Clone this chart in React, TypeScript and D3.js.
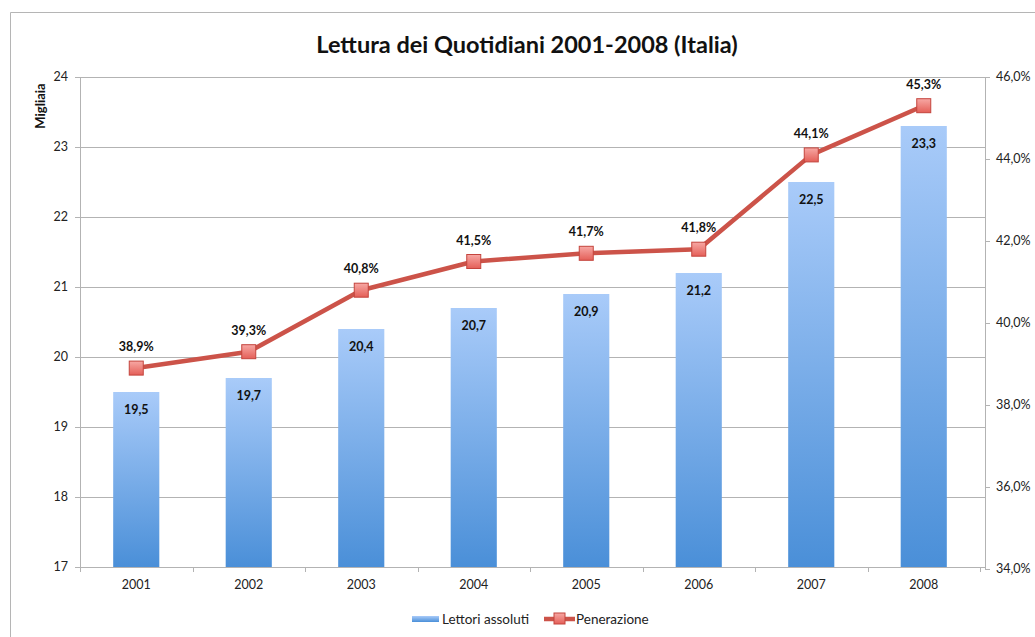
import React from "react";
import * as d3 from "d3";

const years = ["2001", "2002", "2003", "2004", "2005", "2006", "2007", "2008"];
const lettori = [19.5, 19.7, 20.4, 20.7, 20.9, 21.2, 22.5, 23.3];
const penetrazione = [38.9, 39.3, 40.8, 41.5, 41.7, 41.8, 44.1, 45.3];
const leftTicks = [17, 18, 19, 20, 21, 22, 23, 24];
const rightTicks = [34, 36, 38, 40, 42, 44, 46];

const W = 1035;
const H = 637;
const L = 80;
const R = 980;
const T = 77;
const B = 567;
const FONT = "Lato, 'Open Sans', sans-serif";

const fmt = (v: number, d: number) => v.toFixed(d).replace(".", ",");

export default function App() {
  const x = d3.scaleBand<string>().domain(years).range([L, R]).paddingInner(0.59).paddingOuter(0.295);
  const yL = d3.scaleLinear().domain([17, 24]).range([B, T]);
  const yR = d3.scaleLinear().domain([34, 46]).range([B + 2, T]);
  const cx = (y: string) => (x(y) as number) + x.bandwidth() / 2;
  const line = d3
    .line<number>()
    .x((_, i) => cx(years[i]))
    .y((d) => yR(d));

  return (
    <svg width={W} height={H} style={{ position: "absolute", left: 0, top: 0 }} fontFamily={FONT}>
      <defs>
        <linearGradient id="barG" x1="0" y1="0" x2="0" y2="1">
          <stop offset="0" stopColor="#a9cbf9" />
          <stop offset="1" stopColor="#4a8fd8" />
        </linearGradient>
        <linearGradient id="mkG" x1="0" y1="0" x2="0" y2="1">
          <stop offset="0" stopColor="#f7a8a4" />
          <stop offset="1" stopColor="#e45f58" />
        </linearGradient>
      </defs>
      <rect x={0} y={0} width={W} height={H} fill="#fff" />
      <path d={`M10.5,${H} V12.5 H${W}`} fill="none" stroke="#b5b5b5" strokeWidth={1} />
      <text x={527} y={53} textAnchor="middle" fontSize={23.5} fontWeight="bold" fill="#111">
        Lettura dei Quotidiani 2001-2008 (Italia)
      </text>
      <text
        transform={`translate(45,106) rotate(-90)`}
        textAnchor="middle"
        fontSize={13}
        fontWeight="bold"
        fill="#111"
      >
        Migliaia
      </text>
      {leftTicks.map((t) => (
        <g key={t}>
          <line x1={L - 5} x2={985} y1={Math.round(yL(t)) + 0.5} y2={Math.round(yL(t)) + 0.5} stroke="#b3b3b3" />
          <text x={68} y={yL(t) + 4} textAnchor="end" fontSize={12.5} fill="#222">
            {t}
          </text>
        </g>
      ))}
      <line x1={L + 0.5} x2={L + 0.5} y1={T} y2={B} stroke="#b3b3b3" />
      <line x1={985.5} x2={985.5} y1={T} y2={B + 2} stroke="#b3b3b3" />
      {rightTicks.map((t) => (
        <g key={t}>
          <line x1={985} x2={990} y1={Math.round(yR(t)) + 0.5} y2={Math.round(yR(t)) + 0.5} stroke="#b3b3b3" />
          <text x={996} y={yR(t) + 4} fontSize={12.5} fill="#222">
            {fmt(t, 1)}%
          </text>
        </g>
      ))}
      {years.map((y) => (
        <g key={y}>
          <line x1={Math.round(x(y)! - (x.step() - x.bandwidth()) / 2) + 0.5} x2={Math.round(x(y)! - (x.step() - x.bandwidth()) / 2) + 0.5} y1={B} y2={B + 5} stroke="#b3b3b3" />
          <text x={cx(y)} y={B + 22} textAnchor="middle" fontSize={12.5} fill="#222">
            {y}
          </text>
        </g>
      ))}
      <line x1={R + 0.5} x2={R + 0.5} y1={B} y2={B + 5} stroke="#b3b3b3" />
      {years.map((y, i) => (
        <g key={"b" + y}>
          <rect x={x(y)} y={yL(lettori[i])} width={x.bandwidth()} height={B - yL(lettori[i])} fill="url(#barG)" />
          <text x={cx(y)} y={yL(lettori[i]) + 22} textAnchor="middle" fontSize={12.5} fontWeight="bold" fill="#111">
            {fmt(lettori[i], 1)}
          </text>
        </g>
      ))}
      <path d={line(penetrazione) || ""} fill="none" stroke="#cc5349" strokeWidth={4.5} strokeLinejoin="round" />
      {years.map((y, i) => (
        <g key={"m" + y}>
          <rect x={cx(y) - 7} y={yR(penetrazione[i]) - 7} width={14} height={14} fill="url(#mkG)" stroke="#c4443d" strokeWidth={1} />
          <text x={cx(y)} y={yR(penetrazione[i]) - 17} textAnchor="middle" fontSize={12.5} fontWeight="bold" fill="#111">
            {fmt(penetrazione[i], 1)}%
          </text>
        </g>
      ))}
      <g>
        <rect x={412} y={616} width={27} height={6} fill="url(#barG)" />
        <text x={442} y={624} fontSize={13.5} fill="#222">Lettori assoluti</text>
        <line x1={544} x2={575} y1={619} y2={619} stroke="#cc5349" strokeWidth={4.5} />
        <rect x={554} y={613} width={11} height={11} fill="url(#mkG)" stroke="#c4443d" />
        <text x={576} y={624} fontSize={13.5} fill="#222">Penerazione</text>
      </g>
    </svg>
  );
}
